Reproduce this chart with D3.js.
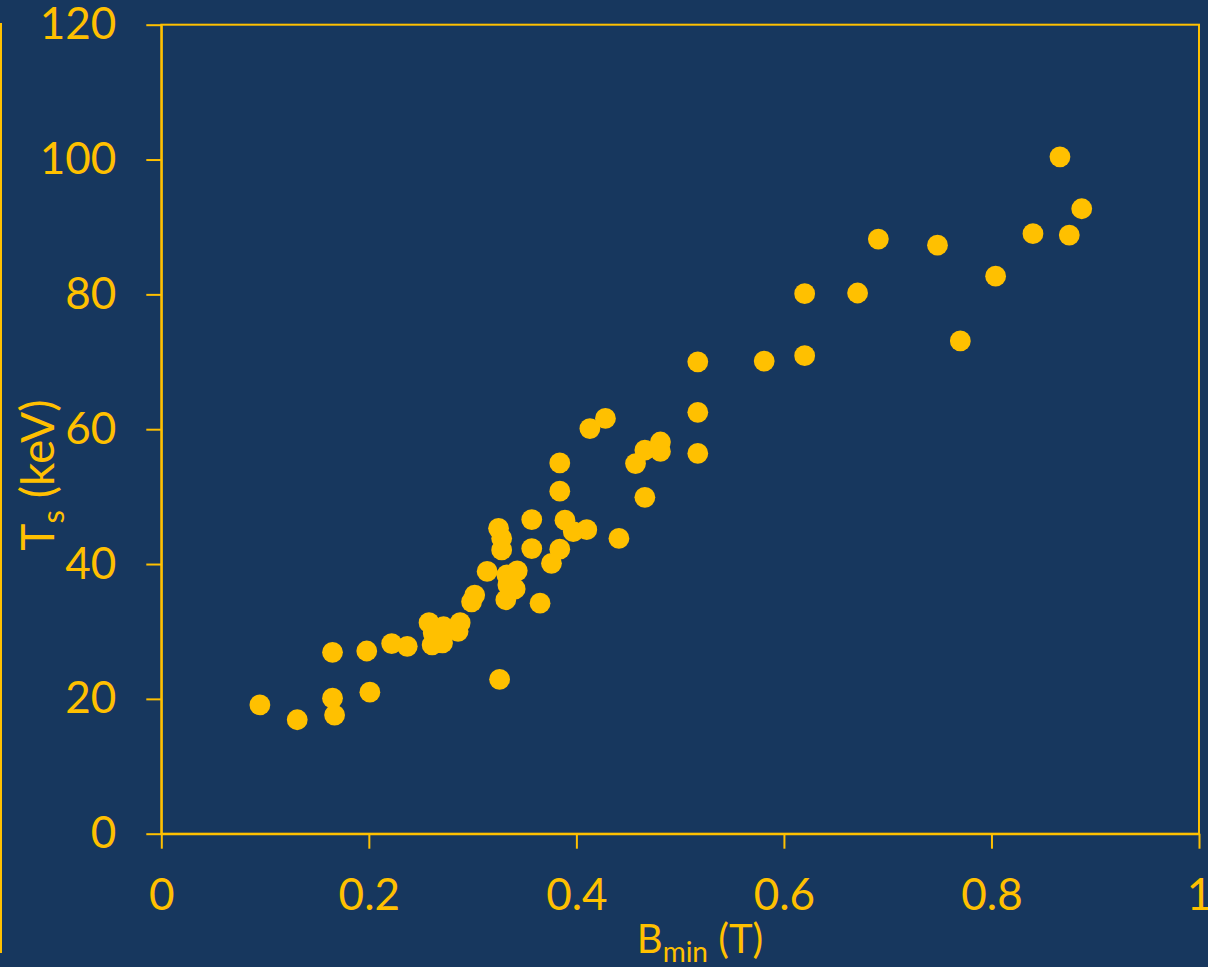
<!DOCTYPE html>
<html>
<head>
<meta charset="utf-8">
<script src="https://cdn.jsdelivr.net/npm/d3@7"></script>
<style>
  html, body { margin: 0; padding: 0; background: #17375E; }
  svg { display: block; }
</style>
</head>
<body>
<div id="chart"></div>
<script>
// B_min (T) and T_s (keV)
const bMin = [0.095, 0.131, 0.165, 0.165, 0.167, 0.198, 0.201, 0.222, 0.237, 0.258,
              0.261, 0.262, 0.272, 0.271, 0.286, 0.288, 0.299, 0.302, 0.314, 0.325,
              0.326, 0.328, 0.328, 0.333, 0.332, 0.334, 0.343, 0.341, 0.357, 0.357,
              0.365, 0.376, 0.384, 0.384, 0.384, 0.389, 0.397, 0.410, 0.413, 0.428,
              0.441, 0.457, 0.466, 0.466, 0.481, 0.481, 0.517, 0.517, 0.517, 0.581,
              0.620, 0.620, 0.671, 0.691, 0.748, 0.770, 0.804, 0.840, 0.866, 0.875,
              0.887];
const tS   = [19.1, 16.9, 26.9, 20.1, 17.6, 27.1, 21.0, 28.2, 27.8, 31.3,
              28.0, 29.8, 30.7, 28.3, 30.0, 31.3, 34.4, 35.4, 38.9, 45.3,
              22.9, 43.8, 42.1, 38.4, 34.7, 36.9, 39.0, 36.3, 46.6, 42.3,
              34.2, 40.1, 42.2, 55.0, 50.8, 46.5, 44.8, 45.1, 60.1, 61.6,
              43.8, 54.9, 56.9, 49.9, 58.1, 56.7, 70.0, 62.5, 56.4, 70.1,
              80.1, 70.9, 80.2, 88.2, 87.3, 73.1, 82.7, 89.0, 100.4, 88.8,
              92.7];
const xTicks = [0, 0.2, 0.4, 0.6, 0.8, 1];
const yTicks = [0, 20, 40, 60, 80, 100, 120];

const points = bMin.map((b, i) => ({b: b, t: tS[i]}));

/* Set the dimensions and margins of the graph */
const width = 1208, height = 967;
const margins = {top: 24.7, right: 9, bottom: 133.3, left: 161.3};
const yellow = "#FFC000";
const font = "Lato, 'Open Sans', sans-serif";

const svg = d3.select("#chart")
    .append("svg")
    .attr("width", width)
    .attr("height", height)
    .attr("viewBox", [0, 0, width, height]);

svg.append("rect")
    .attr("width", width)
    .attr("height", height)
    .attr("fill", "#17375E");

const xScale = d3.scaleLinear()
    .domain([0, 1])
    .range([margins.left, width - margins.right]);
const yScale = d3.scaleLinear()
    .domain([0, 120])
    .range([height - margins.bottom, margins.top]);

// thin line at the far left of the slide
svg.append("line")
    .attr("x1", 1).attr("x2", 1)
    .attr("y1", 23).attr("y2", 953)
    .attr("stroke", yellow)
    .attr("stroke-width", 2);

// plot area border
svg.append("rect")
    .attr("x", xScale(0))
    .attr("y", yScale(120))
    .attr("width", xScale(1) - xScale(0))
    .attr("height", yScale(0) - yScale(120))
    .attr("fill", "none")
    .attr("stroke", yellow)
    .attr("stroke-width", 2);

/* Axes */
const xAxis = d3.axisBottom(xScale)
    .tickValues(xTicks)
    .tickFormat(d => d)
    .tickSize(15)
    .tickSizeOuter(0)
    .tickPadding(30);
const yAxis = d3.axisLeft(yScale)
    .tickValues(yTicks)
    .tickFormat(d => d)
    .tickSize(15)
    .tickSizeOuter(0)
    .tickPadding(30);

const xGroup = svg.append("g")
    .attr("transform", `translate(0, ${yScale(0)})`)
    .call(xAxis);
const yGroup = svg.append("g")
    .attr("transform", `translate(${xScale(0)}, 0)`)
    .call(yAxis);

[xGroup, yGroup].forEach(g => {
    g.select(".domain").attr("stroke", yellow).attr("stroke-width", 2);
    g.selectAll(".tick line").attr("stroke", yellow).attr("stroke-width", 2);
    g.selectAll(".tick text")
        .attr("fill", yellow)
        .style("font-family", font)
        .style("font-size", "44px");
});

/* Points */
svg.append("g")
    .selectAll("circle")
    .data(points)
    .join("circle")
    .attr("cx", d => xScale(d.b))
    .attr("cy", d => yScale(d.t))
    .attr("r", 10.4)
    .attr("fill", yellow);

/* Axis titles */
const xTitle = svg.append("text")
    .attr("x", 700)
    .attr("y", 953)
    .attr("text-anchor", "middle")
    .attr("fill", yellow)
    .style("font-family", font)
    .style("font-size", "40px");
xTitle.append("tspan").text("B");
xTitle.append("tspan").attr("dy", 9).style("font-size", "28px").text("min");
xTitle.append("tspan").attr("dy", -9).text(" (T)");

const yTitle = svg.append("text")
    .attr("transform", "translate(54, 475) rotate(-90)")
    .attr("text-anchor", "middle")
    .attr("fill", yellow)
    .style("font-family", font)
    .style("font-size", "46px");
yTitle.append("tspan").text("T");
yTitle.append("tspan").attr("dy", 10).style("font-size", "31px").text("s");
yTitle.append("tspan").attr("dy", -10).text(" (keV)");
</script>
</body>
</html>
